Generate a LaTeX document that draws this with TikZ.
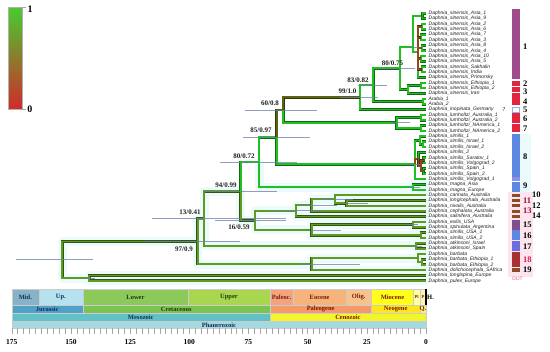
\documentclass[tikz,border=0pt]{standalone}
\usepackage{fontspec}
\setmainfont{Liberation Serif}
\newfontfamily\tipfont{Liberation Sans}
\usetikzlibrary{positioning}
\definecolor{PHGreen}{HTML}{1FC01F}
\definecolor{PHOlive}{HTML}{5E9B1E}
\definecolor{PHDark}{HTML}{5B6414}
\definecolor{PHBrown}{HTML}{8E4A1E}
\definecolor{PHHalo}{HTML}{EBFBFB}
\definecolor{PHHpd}{HTML}{6C7DB0}
\definecolor{PHInk}{HTML}{1E1E1E}
\definecolor{PHLegTop}{HTML}{46CC2E}
\definecolor{PHLegMid}{HTML}{7F8B22}
\definecolor{PHLegBot}{HTML}{D22A2A}
\definecolor{PHPlum}{HTML}{9E4C8C}
\definecolor{PHCrimson}{HTML}{E2243E}
\definecolor{PHSky}{HTML}{8FB2E6}
\definecolor{PHBlue}{HTML}{5B86E2}
\definecolor{PHLav}{HTML}{8F8BE8}
\definecolor{PHMauve}{HTML}{7E4F8C}
\definecolor{PHIndigo}{HTML}{6D6DE3}
\definecolor{PHMaroon}{HTML}{A8302E}
\definecolor{PHRust}{HTML}{8E4A26}
\definecolor{PHPink}{HTML}{FCE5EE}
\definecolor{PHWine}{HTML}{9C1030}
\definecolor{PHRose}{HTML}{D81B50}
\definecolor{PHOut}{HTML}{E25C7C}
\definecolor{GTMid}{HTML}{86B4C6}
\definecolor{GTUpJ}{HTML}{B6E1EE}
\definecolor{GTJur}{HTML}{4EA2C8}
\definecolor{GTLowK}{HTML}{8CC85A}
\definecolor{GTUpK}{HTML}{A9D64E}
\definecolor{GTKre}{HTML}{7DC351}
\definecolor{GTPal}{HTML}{F4A47C}
\definecolor{GTEoc}{HTML}{F6B37C}
\definecolor{GTOli}{HTML}{F8C28C}
\definecolor{GTPgn}{HTML}{F39A66}
\definecolor{GTMio}{HTML}{FFFF1A}
\definecolor{GTPli}{HTML}{FFFFA6}
\definecolor{GTPle}{HTML}{FFF4B3}
\definecolor{GTNeo}{HTML}{FFE61C}
\definecolor{GTQua}{HTML}{F6F27E}
\definecolor{GTMes}{HTML}{62C1C7}
\definecolor{GTCen}{HTML}{F3F52C}
\definecolor{GTPha}{HTML}{A3D9DF}
\definecolor{GTNavy}{HTML}{1B2A5C}
\definecolor{GTForest}{HTML}{1F3A12}
\definecolor{GTBrick}{HTML}{7A1A0A}
\def\agezero{426}
\def\agescale{2.367}
\def\tipnames{Daphnia\_sinensis\_Asia\_1,Daphnia\_sinensis\_Asia\_9,
  Daphnia\_sinensis\_Asia\_2,Daphnia\_sinensis\_Asia\_6,Daphnia\_sinensis\_Asia\_7,
  Daphnia\_sinensis\_Asia\_3,Daphnia\_sinensis\_Asia\_8,Daphnia\_sinensis\_Asia\_4,
  Daphnia\_sinensis\_Asia\_10,Daphnia\_sinensis\_Asia\_5,Daphnia\_sinensis\_Sakhalin,
  Daphnia\_sinensis\_India,Daphnia\_sinensis\_Primorsky,Daphnia\_sinensis\_Ethiopia\_1,
  Daphnia\_sinensis\_Ethiopia\_2,Daphnia\_sinensis\_Iran,Arabia\_1,Arabia\_2,
  Daphnia\_inopinata\_Germany,Daphnia\_lumholtzi\_Australia\_1,Daphnia\_lumholtzi\_Australia\_2,
  Daphnia\_lumholtzi\_NAmerica\_1,Daphnia\_lumholtzi\_NAmerica\_2,Daphnia\_similis\_1,
  Daphnia\_similis\_Israel\_1,Daphnia\_similis\_Israel\_2,Daphnia\_similis\_2,
  Daphnia\_similis\_Saratov\_1,Daphnia\_similis\_Volgograd\_2,Daphnia\_similis\_Spain\_1,
  Daphnia\_similis\_Spain\_2,Daphnia\_similis\_Volgograd\_1,Daphnia\_magna\_Asia,
  Daphnia\_magna\_Europe,Daphnia\_carinata\_Australia,Daphnia\_longicephala\_Australia,
  Daphnia\_nivalis\_Australia,Daphnia\_cephalata\_Australia,Daphnia\_salinifera\_Australia,
  Daphnia\_exilis\_USA,Daphnia\_spinulata\_Argentina,Daphnia\_similis\_USA\_1,
  Daphnia\_similis\_USA\_2,Daphnia\_atkinsoni\_Israel,Daphnia\_atkinsoni\_Spain,
  Daphnia\_barbata,Daphnia\_barbata\_Ethiopia\_1,Daphnia\_barbata\_Ethiopia\_2,
  Daphnia\_dolichocephala\_SAfrica,Daphnia\_longispina\_Europe,Daphnia\_pulex\_Europe}
\tikzset{
  branch/.style={draw=#1,line width=1.7pt,preaction={draw=#1!55!black,line width=2.6pt}},
  branchgreen/.style={branch=PHGreen},
  brancholive/.style={branch=PHOlive},
  branchdark/.style={branch=PHDark},
  branchbrown/.style={branch=PHBrown},
  halo/.style={draw=PHHalo,line width=9pt,line cap=round,line join=round},
  hpd/.style={draw=PHHpd,line width=0.9pt,opacity=0.75},
  tiplab/.style={anchor=west,inner sep=0pt,xshift=2.5pt,text=PHInk,
                 font=\tipfont\itshape\fontsize{5}{5}\selectfont},
  support/.style={inner sep=0pt,text=PHInk,font=\bfseries\fontsize{7}{8}\selectfont},
  cell/.style={draw=white!60!gray,line width=0.3pt},
  stagelab/.style={inner sep=0pt,font=\bfseries\fontsize{6.5}{7}\selectfont},
  stagetiny/.style={stagelab,font=\bfseries\fontsize{4.5}{5}\selectfont},
  agelab/.style={inner sep=0pt,font=\bfseries\fontsize{7.5}{8}\selectfont},
  agetick/.style={draw=gray!70,line width=0.4pt},
  cladenum/.style={anchor=west,inner sep=0pt,font=\bfseries\fontsize{8.5}{9}\selectfont},
  legendlab/.style={inner sep=0pt,font=\bfseries\fontsize{10}{11}\selectfont},
}

\begin{document}
\begin{tikzpicture}[x=1pt,y=-1pt]
  \useasboundingbox (0,0) rectangle (550,352);

  % posterior colour key
  \shade[top color=PHLegTop,middle color=PHLegMid,bottom color=PHLegBot,draw=gray!60,line width=0.3pt]
    (8.3,7.3) rectangle (22.3,109);
  \draw[gray!70,line width=0.4pt] (22.3,7.3) -- (26,7.3) (22.3,109) -- (26,109);
  \node[legendlab] (key1) at (30,9.3) {1};
  \node[legendlab] (key0) at (29.8,109.7) {0};

  % tips
  \foreach \tipname [count=\i] in \tipnames {\coordinate (t\i) at (\agezero,{13.3+(\i-1)*5.35});}

  % internal nodes
  \coordinate (root) at (62.3,259.8);
  \coordinate (outg) at (89.3,278.1);
  \coordinate (n97) at (197.7,241.4);
  \coordinate (barb) at (311.7,264.1);
  \coordinate (barbE) at (418,258.1);
  \coordinate (barbEt) at (422,262.1);
  \coordinate (n13) at (204,218.7);
  \coordinate (atk) at (416,246.0);
  \coordinate (n94) at (240.7,191.3);
  \coordinate (n16) at (255,220.5);
  \coordinate (aus1) at (296,210.9);
  \coordinate (aus2) at (311.7,205.2);
  \coordinate (aus3) at (335,199.2);
  \coordinate (aus4) at (346.7,203.25);
  \coordinate (exus) at (311.7,230);
  \coordinate (exsp) at (413,224.6);
  \coordinate (simus) at (421,235.3);
  \coordinate (n80b) at (259,162.2);
  \coordinate (mag) at (413,187.2);
  \coordinate (n85) at (276.7,137.25);
  \coordinate (sim) at (415,164.3);
  \coordinate (simA) at (420,140.4);
  \coordinate (simAb) at (423,144.4);
  \coordinate (simB) at (418.5,159.1);
  \coordinate (simC) at (421,165.8);
  \coordinate (simCa) at (423.5,160.4);
  \coordinate (simCb) at (423.5,171.1);
  \coordinate (n60) at (283.3,110.2);
  \coordinate (lum) at (396.7,122.7);
  \coordinate (lumau) at (421,117.6);
  \coordinate (lumna) at (421,128.3);
  \coordinate (n99) at (360,97.3);
  \coordinate (n83) at (373.3,85);
  \coordinate (arab) at (423,101.6);
  \coordinate (n80a) at (400,68.3);
  \coordinate (sinasia) at (413,47.1);
  \coordinate (sin12) at (422.5,16);
  \coordinate (sinq) at (418,52.1);
  \coordinate (sin34) at (422,26.7);
  \coordinate (sin56) at (421,37.4);
  \coordinate (sin78) at (422,48.1);
  \coordinate (sin910) at (421,58.8);
  \coordinate (sin1112) at (422,69.5);
  \coordinate (sinaf) at (408,89.5);
  \coordinate (eth) at (421,85.5);

  \def\loweredges{root/n97,root/outg,outg/t50,outg/t51,n97/n13,n97/barb,barb/barbE,barb/t49,
    barbE/t46,barbE/barbEt,barbEt/t47,barbEt/t48,n13/n94,n13/atk,atk/t44,atk/t45,n94/n16,
    n16/aus1,n16/exus,aus1/aus2,aus1/t39,aus2/aus3,aus2/t38,aus3/t35,aus3/aus4,aus4/t36,
    aus4/t37,exus/exsp,exus/simus,exsp/t40,exsp/t41,simus/t42,simus/t43}
  \foreach \p/\c in \loweredges {\draw[halo] (\p) |- (\c);}
  \foreach \p/\c in {n80b/mag,mag/t33,mag/t34} {\draw[halo] (\p) |- (\c);}

  % branches
  \foreach \p/\c in \loweredges {\draw[brancholive] (\p) |- (\c);}
  \foreach \p/\c in {n94/n80b,n80b/n85,n80b/mag,mag/t33,mag/t34,n85/sim,sim/simA,sim/t32,
      simA/t24,simA/simAb,simAb/t25,simAb/t26,simB/t27,simCa/t28,simCa/t29,simCb/t30,simCb/t31,
      n60/lum,lum/lumau,lum/lumna,lumau/t20,lumau/t21,lumna/t22,lumna/t23,n99/n83,n99/t19,
      n83/n80a,n83/arab,arab/t17,arab/t18,n80a/sinasia,n80a/sinaf,sinaf/eth,sinaf/t16,
      eth/t14,eth/t15,sinasia/sin12,sinasia/sinq,sinq/t13,sin12/t1,sin12/t2,sin34/t3,sin34/t4,
      sin56/t5,sin56/t6,sin78/t7,sin78/t8,sin910/t9,sin910/t10,sin1112/t11,sin1112/t12}
    {\draw[branchgreen] (\p) |- (\c);}
  \foreach \p/\c in {n85/n60,n60/n99} {\draw[branchdark] (\p) |- (\c);}
  \foreach \p/\c in {sinq/sin34,sinq/sin56,sinq/sin78,sinq/sin910,sinq/sin1112,
      sim/simB,simB/simC,simC/simCa,simC/simCb} {\draw[branchbrown] (\p) |- (\c);}

  % node age intervals
  \foreach \n/\l/\r in {root/16/93,outg/85/95,n97/144/240,n13/152/286,n94/204/277,n16/215/286,
      n80b/220/297,n85/243/310,n60/245/317,n99/340/378,n83/358/387,n80a/380/415,lum/390/410,
      aus1/270/323,aus2/300/337,aus3/318/353,aus4/345/368,exus/311/341,barb/300/360,
      exsp/405/418,atk/410/422,mag/408/420,sim/406/420,sinasia/408/418}
    {\draw[hpd] (\l,0 |- \n) -- (\r,0 |- \n);}

  % tip labels
  \foreach \tipname [count=\i] in \tipnames {\node[tiplab] (lab\i) at (t\i) {\tipname};}

  % support values
  \node[support] (s8075) at (392.5,63.3) {80/0.75};
  \node[support] (s8382) at (358,80) {83/0.82};
  \node[support] (s9910) at (347.5,91.7) {99/1.0};
  \node[support] (s6008) at (270,103.3) {60/0.8};
  \node[support] (s8597) at (261,130.7) {85/0.97};
  \node[support] (s8072) at (244,156.7) {80/0.72};
  \node[support] (s9499) at (226,185) {94/0.99};
  \node[support] (s1341) at (190,212.7) {13/0.41};
  \node[support] (s1659) at (239,227.3) {16/0.59};
  \node[support] (s9709) at (184,249.3) {97/0.9};

  % clade bars
  \fill[PHPink] (508,192) rectangle (533,277);
  \fill[PHHalo] (520,134) rectangle (531,192);
  \foreach \ya/\yb/\col in {9/79.5/PHPlum,80.6/86/PHCrimson,87/92/PHCrimson,93/105.5/PHCrimson,
      113.5/123/PHCrimson,124/132/PHCrimson,134/176.6/PHBlue,176.6/181/PHLav,182/192/PHBlue,
      219.6/229.6/PHMauve,230.3/240.3/PHBlue,241/251/PHIndigo,251.7/267/PHMaroon,
      267.8/272.4/PHRust}
    {\fill[\col] (512,\ya) rectangle (520,\yb);}
  \foreach \i in {35,...,39} {\fill[PHRust] (512,0 |- t\i) ++(0,-1.4) rectangle ++(8,2.8);}
  \draw[PHSky,fill=white,line width=0.6pt] (512.3,107) rectangle (519.7,112);
  \foreach \num/\y/\xx/\col in {1/46.7/523/black,2/83.6/523/black,3/91.4/523/black,
      4/101.5/523/black,5/110/523/black,6/119/523/black,7/128.3/523/black,8/157/523/black,
      9/186/523/black,10/195/532/black,11/200.5/523/PHWine,12/205.5/532/black,13/211/523/PHWine,
      14/216/532/black,15/225/523/black,16/236/523/black,17/247/523/black,18/259.5/523/PHRose,
      19/270/523/black}
    {\node[cladenum,text=\col] (num\num) at (\xx,\y) {\num};}
  \node[inner sep=0pt,font=\fontsize{6}{6}\selectfont] (unsure) at (504,110) {?};
  \node[inner sep=0pt,text=PHOut,font=\tipfont\fontsize{5}{5}\selectfont] (outlab) at (517.5,278.5) {OUT};

  % geological time scale
  \foreach \a/\b/\col/\txt/\tc [count=\i] in {175/163.5/GTMid/Mid./GTNavy,163.5/145/GTUpJ/Up./GTNavy,
      145/100.5/GTLowK/Lower/GTForest,100.5/66/GTUpK/Upper/GTForest,66/56/GTPal/Paleoc./GTBrick,
      56/33.9/GTEoc/Eocene/GTBrick,33.9/23/GTOli/Olig./GTBrick,23/5.3/GTMio/Miocene/GTBrick}{
    \filldraw[cell,fill=\col] ({\agezero-\agescale*\a},289) rectangle ({\agezero-\agescale*\b},305);
    \node[stagelab,text=\tc] (ep\i) at ({\agezero-\agescale*(\a+\b)/2},297) {\txt};
  }
  \foreach \a/\b/\col/\txt [count=\i] in {5.3/2.6/GTPli/Pl,2.6/0/GTPle/P}{
    \filldraw[cell,fill=\col] ({\agezero-\agescale*\a},289) rectangle ({\agezero-\agescale*\b},305);
    \node[stagetiny,text=GTBrick] (tiny\i) at ({\agezero-\agescale*(\a+\b)/2},297) {\txt};
  }
  \draw[black,line width=1.2pt] (\agezero,289) -- (\agezero,305);
  \node[stagelab,anchor=west] (holo) at (427,297) {H.};
  \foreach \a/\b/\col/\txt/\tc [count=\i] in {175/145/GTJur/Jurassic/GTNavy,
      145/66/GTKre/Cretaceous/GTForest,66/23/GTPgn/Paleogene/GTBrick,23/2.6/GTNeo/Neogene/GTBrick,
      2.6/0/GTQua/Q./GTBrick}{
    \filldraw[cell,fill=\col] ({\agezero-\agescale*\a},305) rectangle ({\agezero-\agescale*\b},313.3);
    \node[stagelab,text=\tc] (pe\i) at ({\agezero-\agescale*(\a+\b)/2},309.3) {\txt};
  }
  \foreach \a/\b/\col/\txt/\tc [count=\i] in {175/66/GTMes/Mesozoic/GTNavy,66/0/GTCen/Cenozoic/GTBrick}{
    \filldraw[cell,fill=\col] ({\agezero-\agescale*\a},313.3) rectangle ({\agezero-\agescale*\b},321);
    \node[stagelab,text=\tc] (er\i) at ({\agezero-\agescale*(\a+\b)/2},317.3) {\txt};
  }
  \filldraw[cell,fill=GTPha] ({\agezero-\agescale*175},321) rectangle (\agezero,328.3);
  \node[stagelab,text=GTNavy] (eon) at ({\agezero-\agescale*87.5},325) {Phanerozoic};
  \foreach \t in {0,2.5,...,175} {\draw[agetick] ({\agezero-\agescale*\t},328.3) -- ++(0,5.5);}
  \foreach \t in {0,25,...,175} {\node[agelab] (age\t) at ({\agezero-\agescale*\t},341.7) {\t};}
\end{tikzpicture}
\end{document}
